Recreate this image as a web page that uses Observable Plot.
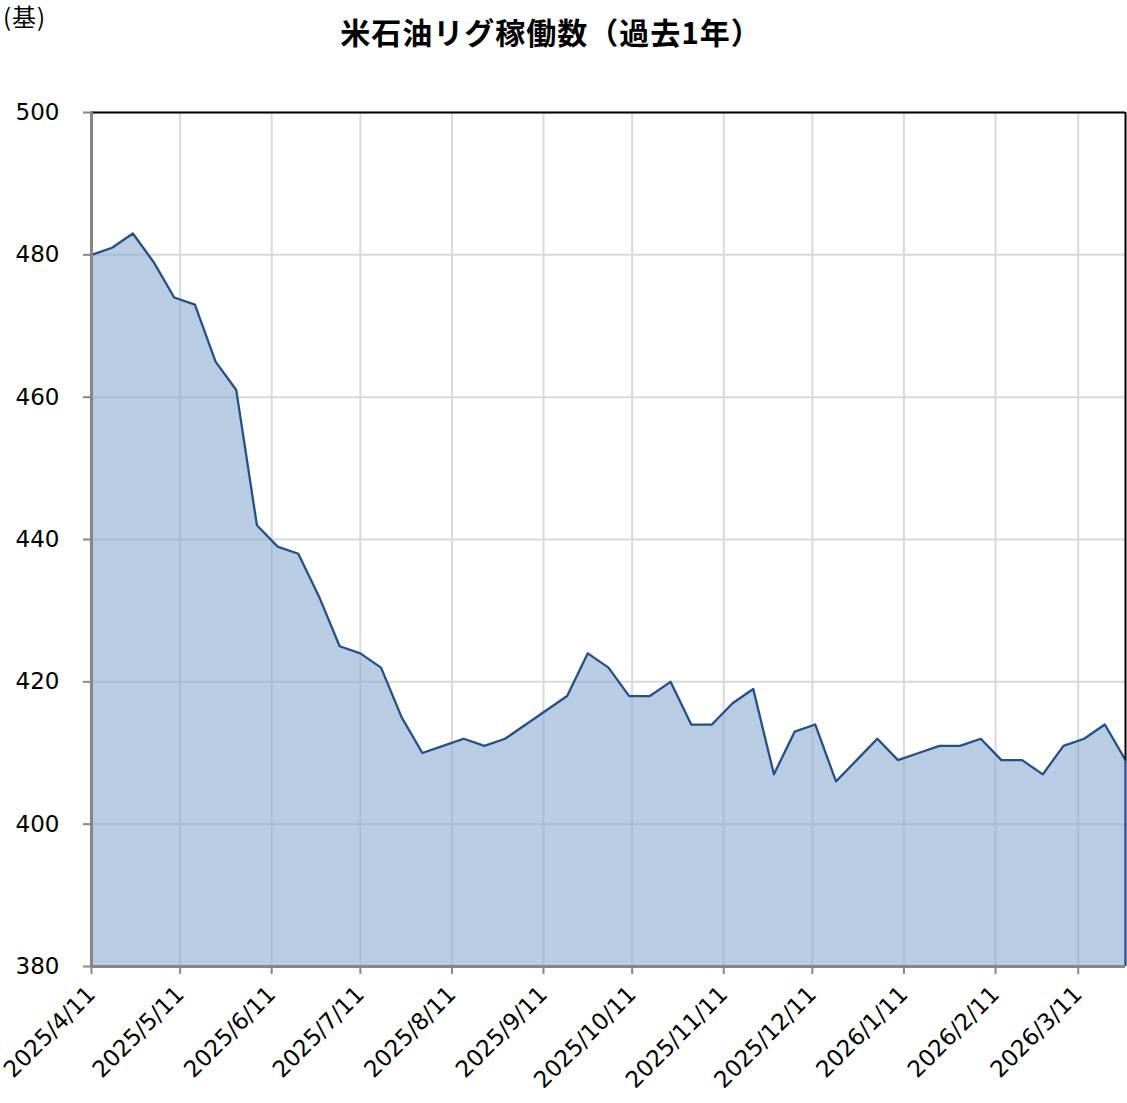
<!DOCTYPE html>
<html>
<head>
<meta charset="utf-8">
<script src="https://cdn.jsdelivr.net/npm/d3@7"></script>
<script src="https://cdn.jsdelivr.net/npm/@observablehq/plot@0.6"></script>
<style>
  body { margin: 0; background: #fff; }
  #wrap { position: relative; width: 1127px; }
  #head { position: relative; height: 60px; }
  #unit { position: absolute; left: 3px; top: 1px; font: 24px "Noto Sans CJK JP", sans-serif; letter-spacing: 1px; line-height: 30px; color: #000; }
  #title { position: absolute; left: 0; width: 1102px; text-align: center; top: 11px; font: bold 30px "Noto Sans CJK JP", sans-serif; letter-spacing: 1px; line-height: 40px; color: #000; }
  svg text { fill: #000; }
</style>
</head>
<body>
<div id="wrap">
  <div id="head">
    <div id="unit">(基)</div>
    <div id="title">米石油リグ稼働数（過去1年）</div>
  </div>
  <div id="chart"></div>
</div>
<script>
const dates = [
  "2025-04-11","2025-04-18","2025-04-25","2025-05-02","2025-05-09","2025-05-16","2025-05-23","2025-05-30",
  "2025-06-06","2025-06-13","2025-06-20","2025-06-27","2025-07-04","2025-07-11","2025-07-18","2025-07-25",
  "2025-08-01","2025-08-08","2025-08-15","2025-08-22","2025-08-29","2025-09-05","2025-09-12","2025-09-19",
  "2025-09-26","2025-10-03","2025-10-10","2025-10-17","2025-10-24","2025-10-31","2025-11-07","2025-11-14",
  "2025-11-21","2025-11-28","2025-12-05","2025-12-12","2025-12-19","2025-12-26","2026-01-02","2026-01-09",
  "2026-01-16","2026-01-23","2026-01-30","2026-02-06","2026-02-13","2026-02-20","2026-02-27","2026-03-06",
  "2026-03-13","2026-03-20","2026-03-27"
];
const rigs = [
  480, 481, 483, 479, 474, 473, 465, 461,
  442, 439, 438, 432, 425, 424, 422, 415,
  410, 411, 412, 411, 412, 414, 416, 418,
  424, 422, 418, 418, 420, 414, 414, 417,
  419, 407, 413, 414, 406, 409, 412, 409,
  410, 411, 411, 412, 409, 409, 407, 411,
  412, 414, 409
];
const yTicks = [380, 400, 420, 440, 460, 480, 500];
const xTickLabels = [
  "2025-04-11","2025-05-11","2025-06-11","2025-07-11","2025-08-11","2025-09-11",
  "2025-10-11","2025-11-11","2025-12-11","2026-01-11","2026-02-11","2026-03-11"
];

const parse = d3.utcParse("%Y-%m-%d");
const data = dates.map((d, i) => ({date: parse(d), value: rigs[i]}));
const xTicks = xTickLabels.map(parse);
const yMin = yTicks[0], yMax = yTicks[yTicks.length - 1];
const last = data.slice(-1);

const lineColor = "#24508a";
const axisGray = "#868686";

const chart = Plot.plot({
  width: 1127,
  height: 1043,
  marginTop: 52,
  marginBottom: 137,
  marginLeft: 91,
  marginRight: 2,
  x: {type: "utc", domain: [data[0].date, data[data.length - 1].date]},
  y: {domain: [yMin, yMax]},
  style: {fontFamily: "'DejaVu Sans', Verdana, sans-serif", fontSize: "23px", color: "#000", background: "#fff", overflow: "visible"},
  marks: [
    Plot.gridY(yTicks, {stroke: "#d9d9d9", strokeOpacity: 1, strokeWidth: 2}),
    Plot.gridX(xTicks, {stroke: "#d9d9d9", strokeOpacity: 1, strokeWidth: 2}),
    Plot.areaY(data, {x: "date", y1: () => yMin, y2: "value", fill: "#89aad2", fillOpacity: 0.6}),
    Plot.lineY(data, {x: "date", y: "value", stroke: lineColor, strokeWidth: 2.3}),
    Plot.ruleX(last, {x: "date", y1: () => yMin, y2: "value", stroke: lineColor, strokeWidth: 2.3}),
    Plot.ruleX(last, {x: "date", y1: "value", y2: () => yMax, stroke: "#000", strokeWidth: 2}),
    Plot.ruleY([yMax], {stroke: "#000", strokeWidth: 2}),
    Plot.ruleY([yMin], {stroke: axisGray, strokeWidth: 3}),
    Plot.ruleX([data[0].date], {stroke: axisGray, strokeWidth: 3}),
    Plot.axisY(yTicks, {tickSize: 8, tickPadding: 24, stroke: axisGray, strokeWidth: 2, label: null, fontSize: 23}),
    Plot.axisX(xTicks, {tickSize: 8, tickPadding: 16, tickRotate: -45, stroke: axisGray, strokeWidth: 2, label: null, fontSize: 23,
      tickFormat: d3.utcFormat("%Y/%-m/%-d")})
  ]
});
document.getElementById("chart").appendChild(chart);
</script>
</body>
</html>
